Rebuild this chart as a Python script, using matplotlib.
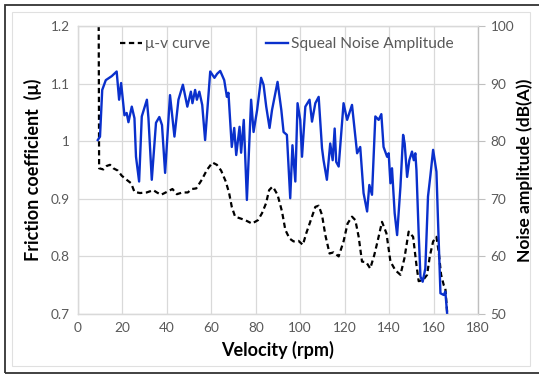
import matplotlib.pyplot as plt
from matplotlib.patches import Rectangle

# curva mu-v (coeficiente de atrito)
vel_mu = [9.2, 9.5, 11.4, 12.9, 14.4, 15.9, 17.9, 19.7, 21.9, 23.9, 25.4, 27.9, 30.9,
          33.9, 35.5, 37.4, 40.0, 42.5, 44.5, 47.0, 49.4, 51.2, 53.2, 55.7, 58.0, 60.5,
          62.5, 64.4, 66.5, 68.0, 69.2, 70.7, 73.0, 75.2, 78.3, 81.0, 82.8, 84.6, 86.0,
          87.5, 88.0, 89.8, 91.8, 93.3, 95.2, 97.0, 99.2, 101.2, 102.7, 104.5, 106.8,
          108.3, 109.8, 111.3, 113.2, 115.0, 117.3, 119.5, 121.3, 123.3, 124.8, 126.3,
          127.8, 129.7, 131.5, 133.3, 134.8, 136.8, 138.8, 140.6, 142.8, 145.1, 146.9,
          148.8, 150.8, 152.3, 153.3, 155.3, 157.1, 158.3, 159.8, 161.3, 162.3, 163.4,
          164.6, 165.3, 166.1]
mu = [1.35, 0.953, 0.951, 0.957, 0.959, 0.953, 0.949, 0.940, 0.933, 0.927, 0.912, 0.910,
      0.911, 0.915, 0.911, 0.907, 0.912, 0.917, 0.908, 0.911, 0.911, 0.917, 0.918, 0.933,
      0.950, 0.963, 0.959, 0.949, 0.930, 0.910, 0.886, 0.869, 0.866, 0.863, 0.857, 0.863,
      0.875, 0.892, 0.915, 0.921, 0.919, 0.907, 0.878, 0.846, 0.831, 0.826, 0.827, 0.820,
      0.840, 0.860, 0.886, 0.888, 0.872, 0.837, 0.805, 0.807, 0.800, 0.826, 0.857, 0.869,
      0.863, 0.834, 0.791, 0.790, 0.779, 0.802, 0.826, 0.860, 0.840, 0.791, 0.776, 0.768,
      0.797, 0.843, 0.834, 0.785, 0.757, 0.759, 0.768, 0.800, 0.826, 0.834, 0.808, 0.768,
      0.750, 0.745, 0.704]

# amplitude do ruido (squeal)
vel_db = [8.9, 9.9, 10.9, 12.5, 15.2, 17.4, 18.5, 19.4, 20.9, 21.9, 22.7, 24.2, 25.4,
          26.1, 27.5, 28.7, 31.0, 31.7, 33.2, 35.1, 36.6, 37.8, 39.2, 41.4, 43.4, 45.2,
          47.2, 49.2, 50.8, 51.5, 52.7, 53.5, 54.6, 55.9, 57.2, 59.5, 61.4, 62.6, 64.0,
          65.8, 67.0, 67.7, 69.2, 70.3, 71.2, 72.7, 73.4, 74.6, 76.0, 77.9, 79.0, 80.6,
          82.4, 83.5, 84.7, 86.2, 87.3, 89.8, 91.5, 92.5, 94.0, 95.5, 96.5, 97.8, 98.8,
          100.0, 100.8, 102.3, 104.2, 105.3, 106.8, 108.3, 109.8, 110.5, 112.0, 113.5,
          114.6, 115.5, 116.2, 117.3, 119.5, 121.1, 123.3, 125.6, 127.0, 128.5, 130.1,
          131.1, 132.3, 133.8, 135.3, 136.5, 137.5, 139.1, 139.8, 140.6, 141.3, 142.5,
          143.6, 145.1, 146.3, 147.0, 148.1, 149.1, 150.3, 151.1, 151.8, 152.3, 153.3,
          154.1, 155.1, 156.3, 157.5, 158.6, 159.8, 161.3, 162.0, 163.1, 164.6, 165.3,
          166.1]
db = [80.2, 80.8, 88.9, 90.6, 91.3, 92.1, 87.2, 90.1, 84.5, 84.9, 83.3, 86.0, 84.0,
      77.3, 73.0, 84.3, 87.2, 84.0, 73.3, 83.2, 84.2, 82.8, 74.5, 88.0, 80.8, 87.2,
      89.8, 86.0, 88.6, 86.6, 88.9, 87.2, 88.6, 86.3, 80.2, 92.1, 91.0, 91.7, 92.2,
      90.6, 87.7, 88.4, 79.0, 82.3, 77.6, 82.5, 78.0, 83.7, 69.8, 87.2, 81.6, 85.4,
      91.0, 89.8, 86.0, 82.3, 85.4, 90.3, 85.4, 81.6, 81.1, 70.1, 79.3, 73.0, 86.6,
      83.7, 77.3, 86.0, 87.2, 83.4, 86.6, 87.7, 78.8, 76.7, 73.3, 79.6,
      76.7, 82.2, 76.4, 75.6, 86.6, 83.7, 86.3, 77.9, 79.0, 71.0, 67.8,
      72.4, 70.7, 84.3, 83.7, 84.7, 79.0, 77.3, 77.9, 72.7, 75.3, 67.5,
      63.7, 72.1, 81.1, 79.6, 73.8, 76.7, 78.2, 76.7, 77.9, 75.0, 64.0,
      56.5, 55.6, 57.9, 70.4, 74.1, 78.5, 74.7, 66.3, 53.6, 53.3, 53.9,
      50.1]

x_ticks = [0, 20, 40, 60, 80, 100, 120, 140, 160, 180]
mu_ticks = [0.7, 0.8, 0.9, 1.0, 1.1, 1.2]
mu_labels = ['0.7', '0.8', '0.9', '1', '1.1', '1.2']
db_ticks = [50, 60, 70, 80, 90, 100]

plt.rcParams['font.family'] = ['Lato', 'DejaVu Sans']
cinza = '#595959'
grade = '#d9d9d9'

fig = plt.figure(figsize=(5.39, 3.75), dpi=100)
ax1 = fig.add_axes([78 / 539, 1 - 314 / 375, 400 / 539, 288 / 375])
ax2 = ax1.twinx()

l1, = ax1.plot(vel_mu, mu, color='black', lw=1.6, linestyle=(0, (2.4, 1.6)),
               label='\u03bc-v curve')
l2, = ax2.plot(vel_db, db, color='#0a30cc', lw=1.7, label='Squeal Noise Amplitude')

ax1.set_xlim(0, 180)
ax1.set_ylim(0.7, 1.2)
ax2.set_ylim(50, 100)
ax1.set_xticks(x_ticks)
ax1.set_yticks(mu_ticks)
ax1.set_yticklabels(mu_labels)
ax2.set_yticks(db_ticks)

ax1.grid(True, color=grade, lw=0.9)
ax1.set_axisbelow(True)
for ax in (ax1, ax2):
    for s in ax.spines.values():
        s.set_color(grade)
        s.set_linewidth(0.9)
ax2.spines['right'].set_color('#bfbfbf')

ax1.tick_params(axis='both', length=0, labelcolor=cinza, labelsize=9.8, pad=6)
ax2.tick_params(axis='y', length=5, color='#bfbfbf', labelcolor=cinza, labelsize=9.8, pad=4)

ax1.set_xlabel('Velocity (rpm)', fontsize=13, fontweight='bold', labelpad=5,
               bbox=dict(facecolor='white', edgecolor='none', pad=2))
ax1.set_ylabel('Friction coefficient  (\u03bc)', fontsize=13, fontweight='bold', labelpad=6)
ax2.set_ylabel('Noise amplitude (dB(A))', fontsize=12.5, fontweight='bold', labelpad=2)

fig.legend(handles=[l1, l2], loc='center', bbox_to_anchor=(287 / 539, 1 - 44 / 375),
           ncol=2, frameon=False, fontsize=11.2, handlelength=1.4, handletextpad=0.2,
           columnspacing=3.6, labelcolor=cinza)

# moldura da figura
fig.patches.append(Rectangle((12 / 539, 1 - 366 / 375), 518 / 539, 354 / 375,
                             transform=fig.transFigure, fill=False, edgecolor='#e0e0e0',
                             lw=0.8, zorder=-1))
fig.patches.append(Rectangle((5 / 539, 1 - 373 / 375), 540 / 539, 368 / 375,
                             transform=fig.transFigure, fill=False, edgecolor='#333333',
                             lw=1.3))

fig.savefig('out.png', dpi=100)
